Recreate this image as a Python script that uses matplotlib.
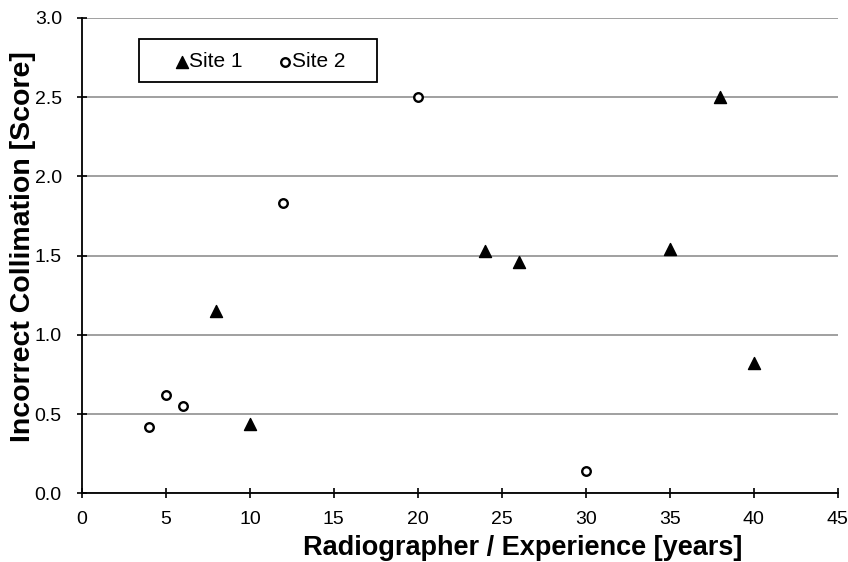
import numpy as np
import matplotlib.pyplot as plt
from matplotlib.patches import Rectangle

plt.rcParams['font.family'] = ['Liberation Sans', 'DejaVu Sans']

# Site 1 (triangles)
site1_x = [8, 10, 24, 26, 35, 38, 40]
site1_y = [1.15, 0.44, 1.53, 1.46, 1.54, 2.50, 0.82]

# Site 2 (open circles)
site2_x = [4, 5, 6, 12, 20, 30]
site2_y = [0.42, 0.62, 0.55, 1.83, 2.50, 0.14]

fig = plt.figure(figsize=(8.48, 5.62), dpi=100)
ax = fig.add_axes([0.0967, 0.122, 0.891, 0.846])

ax.scatter(site1_x, site1_y, marker='^', s=75, color='black', label='Site 1', zorder=3)
ax.scatter(site2_x, site2_y, marker='o', s=38, facecolors='white', edgecolors='black',
           linewidths=1.7, label='Site 2', zorder=3)

ax.set_xlim(0, 45)
ax.set_ylim(0, 3.0)
ax.set_xticks(np.arange(0, 46, 5))
ax.set_yticks(np.arange(0, 3.01, 0.5))
ax.set_yticklabels(['{:.1f}'.format(v) for v in np.arange(0, 3.01, 0.5)])
ax.yaxis.grid(True, color='#999999', linewidth=1.3)
ax.set_axisbelow(True)

for s in ['top', 'right']:
    ax.spines[s].set_visible(False)
ax.spines['left'].set_linewidth(1.3)
ax.spines['bottom'].set_linewidth(1.3)
ax.tick_params(direction='inout', length=7, width=1.2, labelsize=14)
ax.tick_params(axis='x', pad=9)
ax.tick_params(axis='y', pad=11)

ax.set_xlabel('Radiographer / Experience [years]', fontsize=19.5, fontweight='bold', labelpad=5)
ax.xaxis.label.set_x(0.583)
ax.set_ylabel('Incorrect Collimation [Score]', fontsize=20.5, fontweight='bold')
ax.yaxis.set_label_coords(-0.061, 0.519)

# legend box drawn separately, legend itself without frame
ax.add_patch(Rectangle((0.0754, 0.8654), 0.3146, 0.0904, transform=ax.transAxes,
                       facecolor='white', edgecolor='black', linewidth=1.3, zorder=4,
                       clip_on=False))
leg = ax.legend(loc='center left', bbox_to_anchor=(0.123, 0.9075), ncol=2, fontsize=15,
                frameon=False, handletextpad=0.0, handlelength=0.67, columnspacing=1.73,
                borderpad=0, borderaxespad=0)
leg.set_zorder(5)

plt.savefig('out.png', dpi=100)
